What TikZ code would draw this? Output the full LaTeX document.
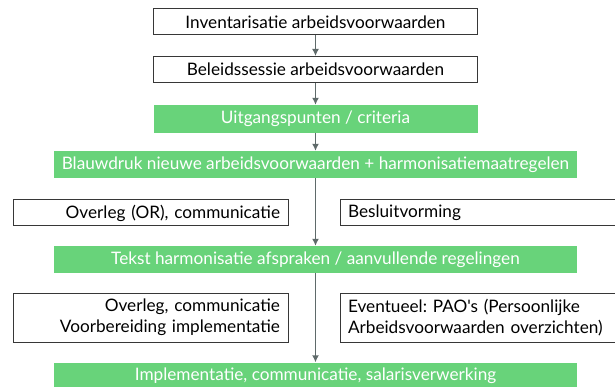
\documentclass[tikz,border=0pt]{standalone}
\usepackage{fontspec}
\setmainfont{Lato}[Ligatures=TeXOff]
\usepackage{tikz}
\usetikzlibrary{arrows.meta}
\definecolor{boxgreen}{RGB}{104,211,122}
\definecolor{arrowgray}{RGB}{95,106,106}
\definecolor{framegray}{RGB}{55,55,55}
\frenchspacing

\begin{document}
\begin{tikzpicture}[x=1pt,y=-1pt,
	white node/.style={draw=framegray, line width=1pt, fill=white, minimum width=324pt, minimum height=26pt, inner sep=0pt, font=\fontsize{17.2}{19}\selectfont},
	green node/.style={fill=boxgreen, text=white, minimum height=27pt, inner sep=0pt, font=\fontsize{17.2}{19}\selectfont},
	side node/.style={draw=framegray, line width=1pt, inner xsep=8pt, inner ysep=0pt, font=\fontsize{17.2}{21}\selectfont},
	flow/.style={arrowgray, line width=1.7pt, -{Latex[length=7pt,width=7pt]}}]
			\useasboundingbox (0,0) rectangle (615,387);
			% Nodes
			\node[white node] (1) at (315.5,22) {Inventarisatie arbeidsvoorwaarden};
			\node[white node] (2) at (315.5,69.5) {Beleidssessie arbeidsvoorwaarden};
			\node[green node, minimum width=324pt, minimum height=28pt] (3) at (315.5,119) {Uitgangspunten / criteria};
			\node[green node, minimum width=523pt] (4) at (315.5,164.5) {Blauwdruk nieuwe arbeidsvoorwaarden + harmonisatiemaatregelen};
			\node[side node, text width=259pt, align=right, minimum height=26pt] (5) at (150.5,213) {Overleg (OR), communicatie};
			\node[side node, text width=274pt, align=left, minimum height=26pt] (6) at (485,213) {Besluitvorming};
			\node[green node, minimum width=523pt] (7) at (315.5,259.5) {Tekst harmonisatie afspraken / aanvullende regelingen};
			\node[side node, text width=259pt, align=right, minimum height=49pt] (8) at (150.5,317.5) {Overleg, communicatie\\Voorbereiding implementatie};
			\node[side node, text width=274pt, align=left, minimum height=49pt] (9) at (485,317.5) {Eventueel: PAO's (Persoonlijke\\Arbeidsvoorwaarden overzichten)};
			\node[green node, minimum width=523pt] (10) at (315.5,376) {Implementatie, communicatie, salarisverwerking};
			
			% Arrows
			\draw[flow] (1) -- (2);
			\draw[flow] (2) -- (3);
			\draw[flow] (3) -- (4);
			\draw[flow] (4) -- (7);
			\draw[flow] (7) -- (10);
			
		\end{tikzpicture}
\end{document}
